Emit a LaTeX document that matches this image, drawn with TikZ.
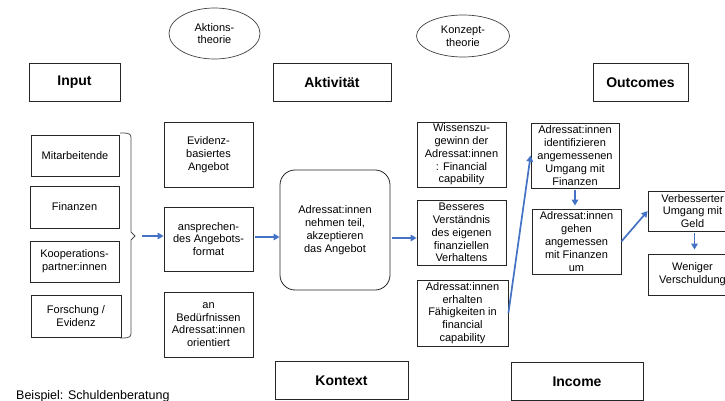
\documentclass[tikz,border=0pt]{standalone}
\usepackage{fontspec}
\setmainfont{Liberation Sans}
\usetikzlibrary{arrows.meta,shapes.geometric,positioning}
\definecolor{flowblue}{HTML}{4472C4}

\begin{document}
\begin{tikzpicture}[x=1pt,y=-1pt,
  box/.style={draw=black!85,line width=0.8pt,align=center,inner sep=1pt,font=\fontsize{11}{12.8}\selectfont},
  head/.style={draw=black!85,line width=0.8pt,font=\fontsize{14}{16}\selectfont\bfseries,minimum height=38pt},
  theory/.style={ellipse,draw=black!75,line width=0.7pt,align=center,inner sep=0pt,font=\fontsize{11}{12.8}\selectfont},
  flow/.style={draw=flowblue,line width=1.7pt,-{Triangle[length=6pt,width=6.5pt]}}]
  \useasboundingbox (0,0) rectangle (725,401);
  \clip (0,0) rectangle (725,401);
  % headings
  \node[head,minimum width=91pt] (input) at (74.5,82) {Input};
  \node[head,minimum width=118pt] (aktiv) at (332,82.5) {Aktivität};
  \node[head,minimum width=95pt] (outc) at (640.5,82.5) {Outcomes};
  \node[head,minimum width=133pt] (kontext) at (341.5,380.5) {Kontext};
  \node[head,minimum width=132pt] (income) at (577,381.5) {Income};
  \node[theory,minimum width=91pt,minimum height=51pt] (aktth) at (214.5,33.5) {Aktions-\\theorie};
  \node[theory,minimum width=93pt,minimum height=42pt] (konzth) at (463,36) {Konzept-\\theorie};
  % input
  \node[box,minimum width=88pt,minimum height=41pt] (mitarb) at (75,155.5) {Mitarbeitende};
  \node[box,minimum width=89pt,minimum height=42pt] (finanz) at (74.5,207) {Finanzen};
  \node[box,minimum width=89pt,minimum height=41pt] (koop) at (74.5,261.5) {Kooperations-\\partner:innen};
  \node[box,minimum width=90pt,minimum height=42pt] (forsch) at (76,316) {Forschung /\\Evidenz};
  \draw[black!70,line width=0.8pt] (120,133) to[out=0,in=90] (131,137) -- (131,232) -- (135,236)
    -- (131,240) -- (131,334) to[out=-90,in=0] (120,338);
  \coordinate (brk) at (135,236);
  % aktivitaet
  \node[box,minimum width=89pt,minimum height=65pt] (evid) at (208.5,154.5) {Evidenz-\\basiertes\\Angebot};
  \node[box,minimum width=89pt,minimum height=64pt] (anspr) at (208.5,239) {ansprechen-\\des Angebots-\\format};
  \node[box,minimum width=89pt,minimum height=65pt] (beduerf) at (208.5,324.5) {an\\Bedürfnissen\\Adressat:innen\\orientiert};
  \node[box,rounded corners=15pt,minimum width=110pt,minimum height=120pt] (teiln) at (335,230) {Adressat:innen\\nehmen teil,\\akzeptieren\\das Angebot};
  % konzept
  \node[box,minimum width=89pt,minimum height=65pt] (wissen) at (461.5,154.5) {Wissenszu-\\gewinn der\\Adressat:innen\\: Financial\\capability};
  \node[box,minimum width=89pt,minimum height=65pt] (verst) at (461.5,232.5) {Besseres\\Verständnis\\des eigenen\\finanziellen\\Verhaltens};
  \node[box,minimum width=91pt,minimum height=66pt] (faehig) at (462.5,313) {Adressat:innen\\erhalten\\Fähigkeiten in\\financial\\capability};
  % outcomes
  \node[box,minimum width=88pt,minimum height=65pt] (identif) at (575,155.5) {Adressat:innen\\identifizieren\\angemessenen\\Umgang mit\\Finanzen};
  \node[box,minimum width=89pt,minimum height=65pt] (umgang) at (576.5,241.5) {Adressat:innen\\gehen\\angemessen\\mit Finanzen\\um};
  \node[box,minimum width=89pt,minimum height=40pt] (geld) at (692.5,211) {Verbesserter\\Umgang mit\\Geld};
  \node[box,minimum width=89pt,minimum height=41pt] (wenig) at (692.5,274.5) {Weniger\\Verschuldung};
  % arrows
  \draw[flow] ([xshift=7pt]brk) -- (brk -| anspr.west);
  \draw[flow] ([xshift=2pt,yshift=2pt]anspr.east) coordinate (a1) -- (a1 -| teiln.west);
  \draw[flow] ([xshift=2pt,yshift=-8pt]teiln.east) coordinate (a2) -- (a2 -| verst.west);
  \draw[flow] (faehig.east) -- (identif.west);
  \draw[flow,shorten <=2pt,shorten >=3pt] (identif.south) -- (identif.south |- umgang.north);
  \draw[flow] (umgang.east) -- (geld.west);
  \draw[flow,shorten <=2pt,shorten >=4pt] ([xshift=2pt]geld.south) -- ([xshift=2pt]wenig.north);
  \node[anchor=base west,inner sep=0pt,font=\fontsize{12.5}{14}\selectfont] (bsp) at (16,399) {Beispiel: Schuldenberatung};
\end{tikzpicture}
\end{document}
